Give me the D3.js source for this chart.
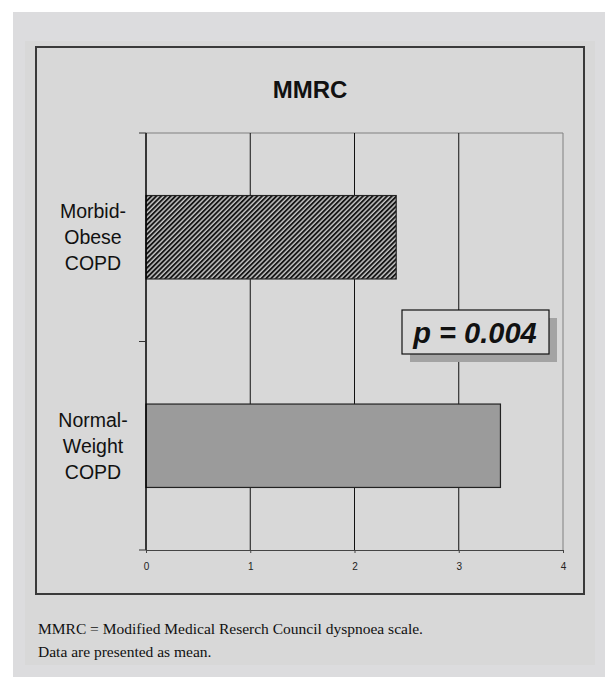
<!DOCTYPE html>
<html>
<head>
<meta charset="utf-8">
<script src="https://cdn.jsdelivr.net/npm/d3@7"></script>
<style>
  body { margin: 0; background: #ffffff; }
</style>
</head>
<body>
<div id="chart"></div>
<script>
// data
const categories = ["Morbid-Obese COPD", "Normal-Weight COPD"];
const labelLines = [["Morbid-", "Obese", "COPD"], ["Normal-", "Weight", "COPD"]];
const means = [2.4, 3.4];
const xTicks = [0, 1, 2, 3, 4];
const chartTitle = "MMRC";
const pValueLabel = "p = 0.004";
const footnotes = [
    "MMRC = Modified Medical Reserch Council dyspnoea scale.",
    "Data are presented as mean."
];

const width = 605, height = 677;
const plot = { left: 146, right: 563, top: 133, bottom: 550 };
const sans = "'Liberation Sans', Arial, sans-serif";

var svg = d3.select("#chart")
    .append("svg")
    .attr("width", width)
    .attr("height", height);

// backgrounds
svg.append("rect").attr("x", 13).attr("y", 12).attr("width", 592).attr("height", 665).attr("fill", "#dcdcde");
svg.append("rect").attr("x", 25).attr("y", 41).attr("width", 570).attr("height", 624).attr("fill", "#d8d8d8");
svg.append("rect").attr("x", 36).attr("y", 47).attr("width", 548).attr("height", 547)
    .attr("fill", "#d8d8d8").attr("stroke", "#3a3a3a").attr("stroke-width", 2);

var defs = svg.append("defs");
var hatch = defs.append("pattern")
    .attr("id", "hatch")
    .attr("patternUnits", "userSpaceOnUse")
    .attr("width", 3.4)
    .attr("height", 3.4)
    .attr("patternTransform", "rotate(45)");
hatch.append("rect").attr("width", 3.4).attr("height", 3.4).attr("fill", "#c8c8c8");
hatch.append("line").attr("x1", 1).attr("x2", 1).attr("y1", 0).attr("y2", 3.4)
    .attr("stroke", "#111").attr("stroke-width", 1.9);

var x = d3.scaleLinear()
    .domain([0, 4])
    .range([plot.left, plot.right]);

var y = d3.scaleBand()
    .domain(categories)
    .range([plot.top, plot.bottom])
    .paddingInner(0.6)
    .paddingOuter(0.3);

// title
svg.append("text")
    .attr("x", 310)
    .attr("y", 98)
    .attr("text-anchor", "middle")
    .style("font-family", sans)
    .style("font-size", "24px")
    .style("font-weight", "bold")
    .style("fill", "#111")
    .text(chartTitle);

// plot border (top / right)
svg.append("path")
    .attr("d", `M${plot.left},${plot.top}H${plot.right}V${plot.bottom}`)
    .attr("fill", "none")
    .attr("stroke", "#808080")
    .attr("stroke-width", 1);

// gridlines
svg.selectAll(".grid")
    .data(xTicks.filter(d => d > 0 && d < 4))
    .enter().append("line")
    .attr("class", "grid")
    .attr("x1", d => x(d)).attr("x2", d => x(d))
    .attr("y1", plot.top).attr("y2", plot.bottom)
    .attr("stroke", "#111")
    .attr("stroke-width", 1);

// bars
var fills = ["url(#hatch)", "#9b9b9b"];
svg.selectAll(".bar")
    .data(categories)
    .enter().append("rect")
    .attr("class", "bar")
    .attr("x", x(0))
    .attr("y", d => y(d))
    .attr("width", (d, i) => x(means[i]) - x(0))
    .attr("height", y.bandwidth())
    .attr("fill", (d, i) => fills[i])
    .attr("stroke", "#222")
    .attr("stroke-width", 1.2);

// x axis
svg.append("g")
    .attr("transform", `translate(0,${plot.bottom})`)
    .style("color", "#444")
    .call(d3.axisBottom(x).tickValues(xTicks).tickSize(3).tickSizeOuter(0).tickPadding(10).tickFormat(d3.format("d")))
    .call(g => g.selectAll("text")
        .style("font-family", sans)
        .style("font-size", "10px")
        .style("fill", "#222"));

// y axis line and category boundary ticks
svg.append("line")
    .attr("x1", plot.left).attr("x2", plot.left)
    .attr("y1", plot.top).attr("y2", plot.bottom)
    .attr("stroke", "#000").attr("stroke-width", 1.5);

svg.selectAll(".ytick")
    .data(d3.range(categories.length + 1))
    .enter().append("line")
    .attr("class", "ytick")
    .attr("x1", plot.left - 7).attr("x2", plot.left)
    .attr("y1", i => plot.top + i * y.step())
    .attr("y2", i => plot.top + i * y.step())
    .attr("stroke", "#333");

// category labels
var labels = svg.selectAll(".cat")
    .data(categories)
    .enter().append("text")
    .attr("class", "cat")
    .attr("text-anchor", "middle")
    .style("font-family", sans)
    .style("font-size", "19.5px")
    .style("fill", "#111");

labels.selectAll("tspan")
    .data((d, i) => labelLines[i].map((t, j) => ({ t: t, j: j, c: y(d) + y.bandwidth() / 2 })))
    .enter().append("tspan")
    .attr("x", 93)
    .attr("y", d => d.c + (d.j - 1) * 26 + 7)
    .text(d => d.t);

// p-value box
svg.append("rect")
    .attr("x", 410).attr("y", 318).attr("width", 147).attr("height", 44)
    .attr("fill", "#a3a3a3");
svg.append("rect")
    .attr("x", 402).attr("y", 310).attr("width", 147).attr("height", 44)
    .attr("fill", "#d9d9d9").attr("stroke", "#111").attr("stroke-width", 1.2);
svg.append("text")
    .attr("x", 475).attr("y", 343)
    .attr("text-anchor", "middle")
    .style("font-family", sans)
    .style("font-size", "29px")
    .style("font-weight", "bold")
    .style("font-style", "italic")
    .style("fill", "#111")
    .text(pValueLabel);

// footnotes
svg.selectAll(".note")
    .data(footnotes)
    .enter().append("text")
    .attr("class", "note")
    .attr("x", 38)
    .attr("y", (d, i) => 634 + i * 23)
    .style("font-family", "'Liberation Serif', 'Times New Roman', serif")
    .style("font-size", "15.5px")
    .style("fill", "#111")
    .text(d => d);
</script>
</body>
</html>
